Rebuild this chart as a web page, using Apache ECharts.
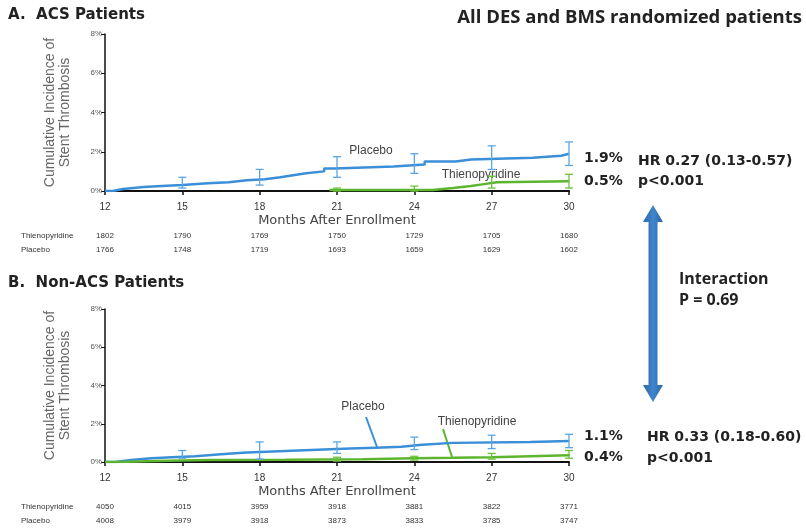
<!DOCTYPE html>
<html><head><meta charset="utf-8">
<script src="https://cdn.jsdelivr.net/npm/echarts@6/dist/echarts.min.js"></script>
<style>html,body{margin:0;padding:0;background:#fff}#c{width:806px;height:531px}</style>
</head><body><div id="c"></div>
<script>
// ---------- data ----------
var xTicks = [12, 15, 18, 21, 24, 27, 30];
// Panel A (ACS)
var aPlaceboMonths = [12, 12.3, 12.7, 13.5, 14.2, 15, 16, 16.8, 17.5, 18.2, 18.8, 19.3, 19.8, 20.5, 20.9, 23.2, 24.4, 25.6, 26.2, 28.6, 29.7, 30];
var aPlaceboValues = [0, 0.1, 0.2, 0.25, 0.3, 0.4, 0.45, 0.55, 0.6, 0.7, 0.8, 0.9, 1.0, 1.15, 1.25, 1.35, 1.5, 1.6, 1.7, 1.8, 1.9, 1.9];
var aThienoMonths = [20.7, 24.7, 25.5, 26.2, 26.7, 27.2, 30];
var aThienoValues = [0.05, 0.15, 0.25, 0.35, 0.45, 0.5, 0.5];
var aPlaceboErrMonths = [15, 18, 21, 24, 27, 30];
var aPlaceboErrLow = [0.15, 0.3, 0.7, 0.9, 1.1, 1.3];
var aPlaceboErrHigh = [0.7, 1.1, 1.75, 1.9, 2.3, 2.5];
var aThienoErrMonths = [21, 24, 27, 30];
var aThienoErrLow = [0, 0, 0.15, 0.15];
var aThienoErrHigh = [0.15, 0.25, 0.75, 0.85];
var aRiskThieno = [1802, 1790, 1769, 1750, 1729, 1705, 1680];
var aRiskPlacebo = [1766, 1748, 1719, 1693, 1659, 1629, 1602];
// Panel B (Non-ACS)
var bPlaceboMonths = [12, 12.4, 13, 13.8, 14.6, 15.5, 16.5, 17.5, 18.5, 19.5, 20.5, 21.5, 22.5, 23.5, 24.3, 25.5, 28.5, 30];
var bPlaceboValues = [0, 0.1, 0.2, 0.25, 0.3, 0.4, 0.5, 0.55, 0.6, 0.65, 0.7, 0.75, 0.8, 0.9, 1.0, 1.05, 1.1, 1.1];
var bThienoMonths = [12, 12.5, 14, 16, 19, 22, 24, 25.5, 27, 28.5, 30];
var bThienoValues = [0, 0.05, 0.1, 0.12, 0.15, 0.2, 0.22, 0.25, 0.3, 0.35, 0.4];
var bPlaceboErrMonths = [15, 18, 21, 24, 27, 30];
var bPlaceboErrLow = [0.2, 0.15, 0.45, 0.65, 0.7, 0.75];
var bPlaceboErrHigh = [0.6, 1.05, 1.05, 1.3, 1.4, 1.45];
var bThienoErrMonths = [21, 24, 27, 30];
var bThienoErrLow = [0.05, 0.1, 0.15, 0.2];
var bThienoErrHigh = [0.25, 0.3, 0.45, 0.6];
var bRiskThieno = [4050, 4015, 3959, 3918, 3881, 3822, 3771];
var bRiskPlacebo = [4008, 3979, 3918, 3873, 3833, 3785, 3747];

var yTicks = [0, 2, 4, 6, 8];

// ---------- styles ----------
var BLUE = '#3b8fd8', GREEN = '#5db52f', BLUE_ERR = '#5aa6e3', GREEN_ERR = '#6cc23a';
var ARIAL = 'Liberation Sans, Arial, sans-serif';
var DJ = '"DejaVu Sans", sans-serif';

function pairs(xs, ys) { return xs.map(function (x, i) { return [x, ys[i]]; }); }
function triples(xs, lo, hi) { return xs.map(function (x, i) { return [x, lo[i], hi[i]]; }); }

function errRender(color) {
  return function (params, api) {
    var x = api.value(0);
    var p1 = api.coord([x, api.value(1)]);
    var p2 = api.coord([x, api.value(2)]);
    var w = 4;
    var st = { stroke: color, lineWidth: 1.3 };
    return { type: 'group', children: [
      { type: 'line', shape: { x1: p1[0], y1: p1[1], x2: p2[0], y2: p2[1] }, style: st },
      { type: 'line', shape: { x1: p1[0] - w, y1: p1[1], x2: p1[0] + w, y2: p1[1] }, style: st },
      { type: 'line', shape: { x1: p2[0] - w, y1: p2[1], x2: p2[0] + w, y2: p2[1] }, style: st }
    ]};
  };
}

var grids = [
  { left: 105, width: 464, top: 34, height: 157 },
  { left: 105, width: 464, top: 309, height: 153 }
];

function mainX(gi, nameGap) {
  return {
    type: 'value', gridIndex: gi, min: 12, max: 30, interval: 3,
    axisLine: { onZero: false, lineStyle: { color: '#111', width: 2 } },
    axisTick: { show: true, length: 4, lineStyle: { color: '#111', width: 1.5 } },
    axisLabel: { fontSize: 10, color: '#333', margin: 11, fontFamily: ARIAL },
    splitLine: { show: false },
    name: 'Months After Enrollment', nameLocation: 'middle', nameGap: nameGap,
    nameTextStyle: { fontSize: 13, color: '#444', fontFamily: DJ }
  };
}
function riskX(gi, offset, arr, label) {
  return {
    type: 'value', gridIndex: gi, min: 12, max: 30, interval: 3, position: 'bottom', offset: offset,
    axisLine: { show: false, onZero: false }, axisTick: { show: false }, splitLine: { show: false },
    axisLabel: { fontSize: 8, color: '#333', margin: 0, fontFamily: ARIAL, showMinLabel: true, showMaxLabel: true,
      formatter: function (v) { var i = xTicks.indexOf(v); return i >= 0 ? String(arr[i]) : ''; } },
    name: label, nameLocation: 'start', nameGap: 84,
    nameTextStyle: { fontSize: 8, color: '#333', align: 'left', verticalAlign: 'top', fontFamily: ARIAL }
  };
}
function mainY(gi) {
  return {
    type: 'value', gridIndex: gi, min: 0, max: 8, interval: 2,
    axisLine: { show: true, lineStyle: { color: '#111', width: 1.5 } },
    axisTick: { show: true, length: 4, lineStyle: { color: '#111' } },
    axisLabel: { fontSize: 8, color: '#555', margin: 3, fontFamily: ARIAL,
      formatter: function (v) { return yTicks.indexOf(v) >= 0 ? v + '%' : ''; } },
    splitLine: { show: false },
    name: 'Cumulative Incidence of\nStent Thrombosis', nameLocation: 'middle', nameGap: 32,
    nameTextStyle: { fontSize: 14, color: '#666', lineHeight: 15, fontFamily: ARIAL }
  };
}

function stepLine(name, xi, yi, data, color) {
  return { type: 'line', name: name, xAxisIndex: xi, yAxisIndex: yi, step: 'end', data: data,
    showSymbol: false, lineStyle: { color: color, width: 2.5 }, z: 3, animation: false };
}
function errSeries(xi, yi, data, color) {
  return { type: 'custom', xAxisIndex: xi, yAxisIndex: yi, data: data, renderItem: errRender(color),
    encode: { x: 0, y: [1, 2] }, z: 4, animation: false };
}

function t(x, y, text, font, extra) {
  var s = { text: text, font: font, fill: '#222', verticalAlign: 'middle' };
  if (extra) for (var k in extra) s[k] = extra[k];
  return { type: 'text', x: x, y: y, style: s };
}

var option = {
  animation: false,
  grid: grids,
  xAxis: [
    mainX(0, 23), riskX(0, 41, aRiskThieno, 'Thienopyridine'), riskX(0, 55, aRiskPlacebo, 'Placebo'),
    mainX(1, 23), riskX(1, 41, bRiskThieno, 'Thienopyridine'), riskX(1, 55, bRiskPlacebo, 'Placebo')
  ],
  yAxis: [mainY(0), mainY(1)],
  series: [
    stepLine('Placebo', 0, 0, pairs(aPlaceboMonths, aPlaceboValues), BLUE),
    stepLine('Thienopyridine', 0, 0, pairs(aThienoMonths, aThienoValues), GREEN),
    errSeries(0, 0, triples(aPlaceboErrMonths, aPlaceboErrLow, aPlaceboErrHigh), BLUE_ERR),
    errSeries(0, 0, triples(aThienoErrMonths, aThienoErrLow, aThienoErrHigh), GREEN_ERR),
    stepLine('Placebo', 3, 1, pairs(bPlaceboMonths, bPlaceboValues), BLUE),
    stepLine('Thienopyridine', 3, 1, pairs(bThienoMonths, bThienoValues), GREEN),
    errSeries(3, 1, triples(bPlaceboErrMonths, bPlaceboErrLow, bPlaceboErrHigh), BLUE_ERR),
    errSeries(3, 1, triples(bThienoErrMonths, bThienoErrLow, bThienoErrHigh), GREEN_ERR)
  ],
  graphic: [
    t(8, 15, 'A.  ACS Patients', 'bold 15px ' + DJ),
    t(8, 283, 'B.  Non-ACS Patients', 'bold 15px ' + DJ),
    t(802, 18, 'All DES and BMS randomized patients', 'bold 18.5px "Open Sans", sans-serif', { align: 'right' }),
    // curve labels
    t(371, 151, 'Placebo', '12px ' + ARIAL, { fill: '#444', align: 'center' }),
    t(481, 175, 'Thienopyridine', '12px ' + ARIAL, { fill: '#444', align: 'center' }),
    t(363, 407, 'Placebo', '12px ' + ARIAL, { fill: '#444', align: 'center' }),
    t(477, 422, 'Thienopyridine', '12px ' + ARIAL, { fill: '#444', align: 'center' }),
    { type: 'line', shape: { x1: 366, y1: 417, x2: 377, y2: 447 }, style: { stroke: BLUE, lineWidth: 2 } },
    { type: 'line', shape: { x1: 443, y1: 429, x2: 452, y2: 457 }, style: { stroke: GREEN, lineWidth: 2 } },
    // end values
    t(584, 158, '1.9%', 'bold 14px ' + DJ),
    t(584, 181, '0.5%', 'bold 14px ' + DJ),
    t(638, 161, 'HR 0.27 (0.13-0.57)', 'bold 14px ' + DJ),
    t(638, 181, 'p<0.001', 'bold 14px ' + DJ),
    t(584, 436, '1.1%', 'bold 14px ' + DJ),
    t(584, 457, '0.4%', 'bold 14px ' + DJ),
    t(647, 437, 'HR 0.33 (0.18-0.60)', 'bold 14px ' + DJ),
    t(647, 458, 'p<0.001', 'bold 14px ' + DJ),
    // interaction
    t(679, 279, 'Interaction', 'bold 16px "Open Sans", sans-serif'),
    t(679, 300, 'P = 0.69', 'bold 16px "Open Sans", sans-serif'),
    { type: 'polygon', shape: { points: [[653, 205], [663, 222], [657.5, 222], [657.5, 385], [663, 385], [653, 402], [643, 385], [648.5, 385], [648.5, 222], [643, 222]] },
      style: { fill: { type: 'linear', x: 0, y: 0, x2: 1, y2: 0, colorStops: [{ offset: 0, color: '#2a65a8' }, { offset: 0.5, color: '#3f86cc' }, { offset: 1, color: '#2a65a8' }] } } }
  ]
};
var chart = echarts.init(document.getElementById('c'), null, { renderer: 'canvas' });
chart.setOption(option);
</script>
</body></html>
